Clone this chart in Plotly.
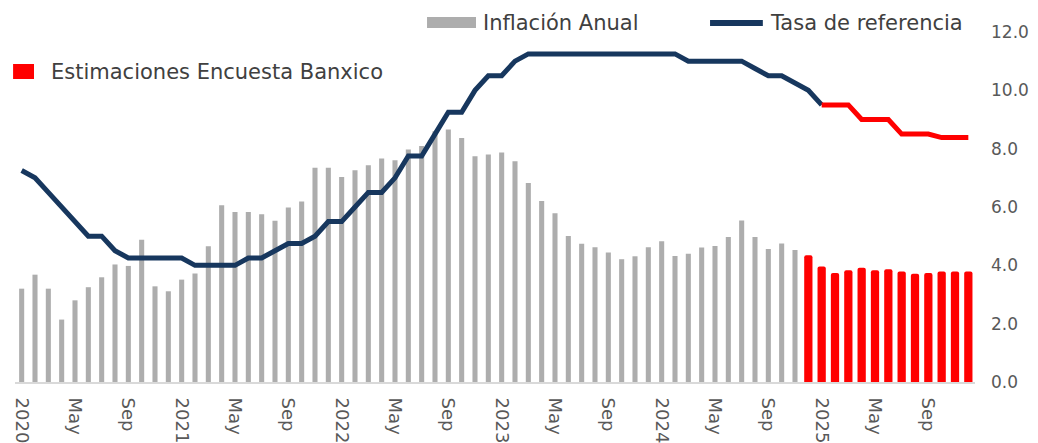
import plotly.graph_objects as go

# Meses: ene-2020 .. dic-2025 (72 posiciones)
n_meses = 72
tick_pos = list(range(0, n_meses, 4))
tick_text = ["2020", "May", "Sep", "2021", "May", "Sep", "2022", "May", "Sep",
             "2023", "May", "Sep", "2024", "May", "Sep", "2025", "May", "Sep"]

# Inflación anual observada, ene-2020 .. nov-2024
inflacion = [
    3.20, 3.68, 3.20, 2.14, 2.80, 3.25, 3.59, 4.03, 3.98, 4.88, 3.28, 3.11,
    3.51, 3.72, 4.65, 6.06, 5.83, 5.83, 5.75, 5.53, 5.98, 6.19, 7.35, 7.35,
    7.03, 7.26, 7.43, 7.66, 7.60, 7.97, 8.09, 8.60, 8.66, 8.37, 7.74, 7.80,
    7.87, 7.57, 6.82, 6.21, 5.79, 5.01, 4.74, 4.62, 4.44, 4.21, 4.31, 4.62,
    4.83, 4.32, 4.40, 4.61, 4.66, 4.97, 5.54, 4.97, 4.56, 4.75, 4.53,
]
# Inflación estimada (Encuesta Banxico), dic-2024 .. dic-2025
inflacion_est = [4.35, 3.96, 3.74, 3.83, 3.92, 3.83, 3.87, 3.79, 3.71, 3.74, 3.79, 3.79, 3.79]

# Tasa de referencia observada, ene-2020 .. ene-2025
tasa = [
    7.25, 7.00, 6.50, 6.00, 5.50, 5.00, 5.00, 4.50, 4.25, 4.25, 4.25, 4.25,
    4.25, 4.00, 4.00, 4.00, 4.00, 4.25, 4.25, 4.50, 4.75, 4.75, 5.00, 5.50,
    5.50, 6.00, 6.50, 6.50, 7.00, 7.75, 7.75, 8.50, 9.25, 9.25, 10.00, 10.50,
    10.50, 11.00, 11.25, 11.25, 11.25, 11.25, 11.25, 11.25, 11.25, 11.25, 11.25, 11.25,
    11.25, 11.25, 11.00, 11.00, 11.00, 11.00, 11.00, 10.75, 10.50, 10.50, 10.25, 10.00,
    9.50,
]
# Tasa estimada, ene-2025 .. dic-2025
tasa_est = [9.50, 9.50, 9.50, 9.00, 9.00, 9.00, 8.50, 8.50, 8.50, 8.38, 8.38, 8.38]

x_infl = list(range(len(inflacion)))
x_infl_est = list(range(len(inflacion), len(inflacion) + len(inflacion_est)))
x_tasa = list(range(len(tasa)))
x_tasa_est = list(range(len(tasa) - 1, len(tasa) - 1 + len(tasa_est)))

GRIS = "#ADADAD"
AZUL = "#17375E"
ROJO = "#FF0000"
FONT = "DejaVu Sans"

fig = go.Figure()

fig.add_trace(go.Bar(x=x_infl, y=inflacion, width=0.38, marker=dict(color=GRIS, line=dict(width=0)),
                     name="Inflación Anual", showlegend=False))
fig.add_trace(go.Bar(x=x_infl_est, y=inflacion_est, width=0.62,
                     marker=dict(color=ROJO, line=dict(width=0), cornerradius=2),
                     name="Estimaciones Encuesta Banxico", showlegend=False))
fig.add_trace(go.Scatter(x=x_tasa, y=tasa, mode="lines", line=dict(color=AZUL, width=5),
                         name="Tasa de referencia", showlegend=False))
fig.add_trace(go.Scatter(x=x_tasa_est, y=tasa_est, mode="lines", line=dict(color=ROJO, width=5),
                         showlegend=False))

# Leyenda dibujada a mano (símbolos estilo Excel)
fig.add_shape(type="rect", xref="paper", yref="paper", x0=0.4292, x1=0.4802, y0=1.0114, y1=1.0429,
              fillcolor=GRIS, line=dict(width=0))
fig.add_shape(type="line", xref="paper", yref="paper", x0=0.724, x1=0.779, y0=1.0257, y1=1.0257,
              line=dict(color=AZUL, width=6))
fig.add_shape(type="rect", xref="paper", yref="paper", x0=-0.002, x1=0.0198, y0=0.8657, y1=0.9086,
              fillcolor=ROJO, line=dict(width=0))

for txt, xx, yy in [("Inflación Anual", 0.4850, 1.0257),
                    ("Tasa de referencia", 0.7840, 1.0257),
                    ("Estimaciones Encuesta Banxico", 0.0350, 0.8857)]:
    fig.add_annotation(text=txt, x=xx, y=yy, xref="paper", yref="paper", xanchor="left",
                       yanchor="middle", showarrow=False, font=dict(family=FONT, size=21, color="#404040"))

# la página deja 8 px de margen al body: el lienzo se reduce en esa medida
fig.update_layout(
    width=1030,
    height=435,
    margin=dict(l=7, r=63, t=24, b=61),
    paper_bgcolor="white",
    plot_bgcolor="white",
    barmode="overlay",
    showlegend=False,
    font=dict(family=FONT, color="#595959"),
)
fig.update_xaxes(
    range=[-0.5, n_meses - 0.5],
    tickvals=tick_pos,
    ticktext=tick_text,
    tickangle=90,
    ticks="",
    tickfont=dict(size=18, color="#595959"),
    showgrid=False,
    zeroline=False,
    showline=True,
    linecolor="#D9D9D9",
    linewidth=2,
    ticklabelstandoff=10,
    automargin=False,
)
fig.update_yaxes(
    side="right",
    range=[0, 12],
    dtick=2,
    tickformat=".1f",
    ticks="",
    tickfont=dict(size=17, color="#595959"),
    showgrid=False,
    zeroline=False,
    showline=False,
    ticklabelstandoff=15,
    automargin=False,
)

fig.write_html("out.html")
